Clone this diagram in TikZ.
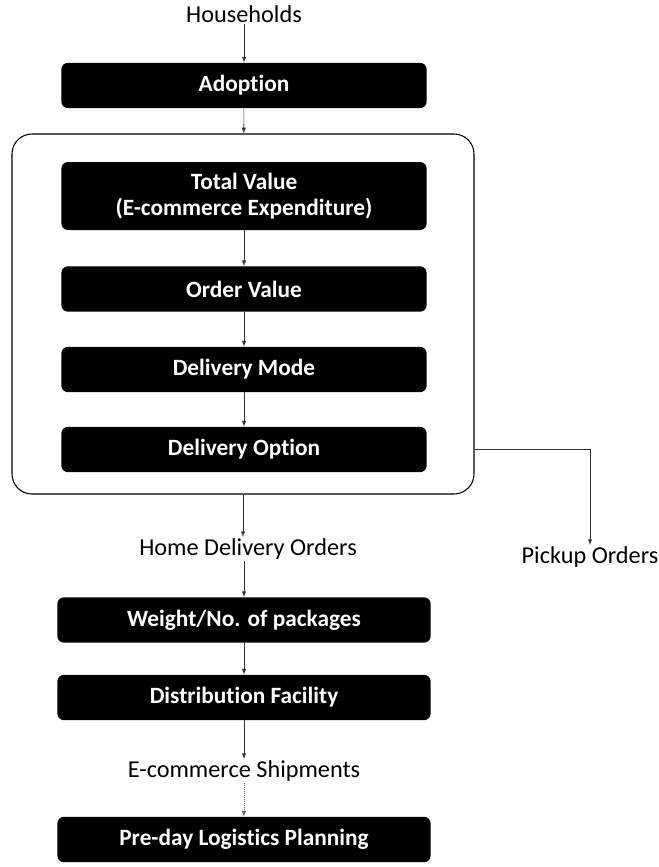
\documentclass[tikz,border=0pt]{standalone}
\usepackage{fontspec}
\setmainfont{Carlito}[Ligatures=NoCommon]
\usetikzlibrary{positioning}

\newcommand{\chartfont}{\fontsize{17.5}{20}\selectfont}

\tikzset{
	stage/.style={rectangle,fill=black,rounded corners=5pt,text=white,font=\chartfont\bfseries,
		minimum width=274pt,minimum height=34pt,align=center},
	label/.style={inner sep=1pt,font=\fontsize{18.2}{21}\selectfont},
	flow/.style={-latex,draw=black!80,line width=0.5pt}
}

\begin{document}
\begin{tikzpicture}[x=0.75pt,y=-0.75pt]
		\useasboundingbox (0,0) rectangle (658,867);
		% upper part
		\node[label] (house) at (244,14) {Households};
		\node[stage] (adopt) at (244,85.5) {Adoption};
		\node[draw,thick,rounded corners=15pt,minimum width=346.5pt,minimum height=270pt] (panel) at (243,314) {};
		\node[stage,minimum height=51pt] (total) at (244,196) {Total Value\\(E-commerce Expenditure)};
		\node[stage] (order) at (244,289) {Order Value};
		\node[stage] (mode) at (244,369.5) {Delivery Mode};
		\node[stage] (option) at (244,449.5) {Delivery Option};
		\draw[flow] (house) -- (adopt);
		\draw[flow] (adopt) -- (panel);
		\draw[flow] (total) -- (order);
		\draw[flow] (order) -- (mode);
		\draw[flow] (mode) -- (option);
		% branches
		\node[label] (pickup) at (590,557) {Pickup Orders};
		\draw[flow] (option -| panel.east) -| (pickup);
		\node[label] (home) at (248,549) {Home Delivery Orders};
		\draw[flow] (panel) -- (panel |- home.north);
		% lower part
		\node[stage,minimum width=280pt] (weight) at (244,620) {Weight/No. of packages};
		\node[stage,minimum width=280pt] (dist) at (244,697.5) {Distribution Facility};
		\node[label] (ship) at (244,771) {E-commerce Shipments};
		\node[stage,minimum width=280pt] (plan) at (244,839.5) {Pre-day Logistics Planning};
		\draw[flow] (weight |- home.south) -- (weight);
		\draw[flow] (weight) -- (dist);
		\draw[flow] (dist) -- (ship);
		\draw[flow,densely dotted,draw=black!60] (ship) -- (plan);
	\end{tikzpicture}
\end{document}
